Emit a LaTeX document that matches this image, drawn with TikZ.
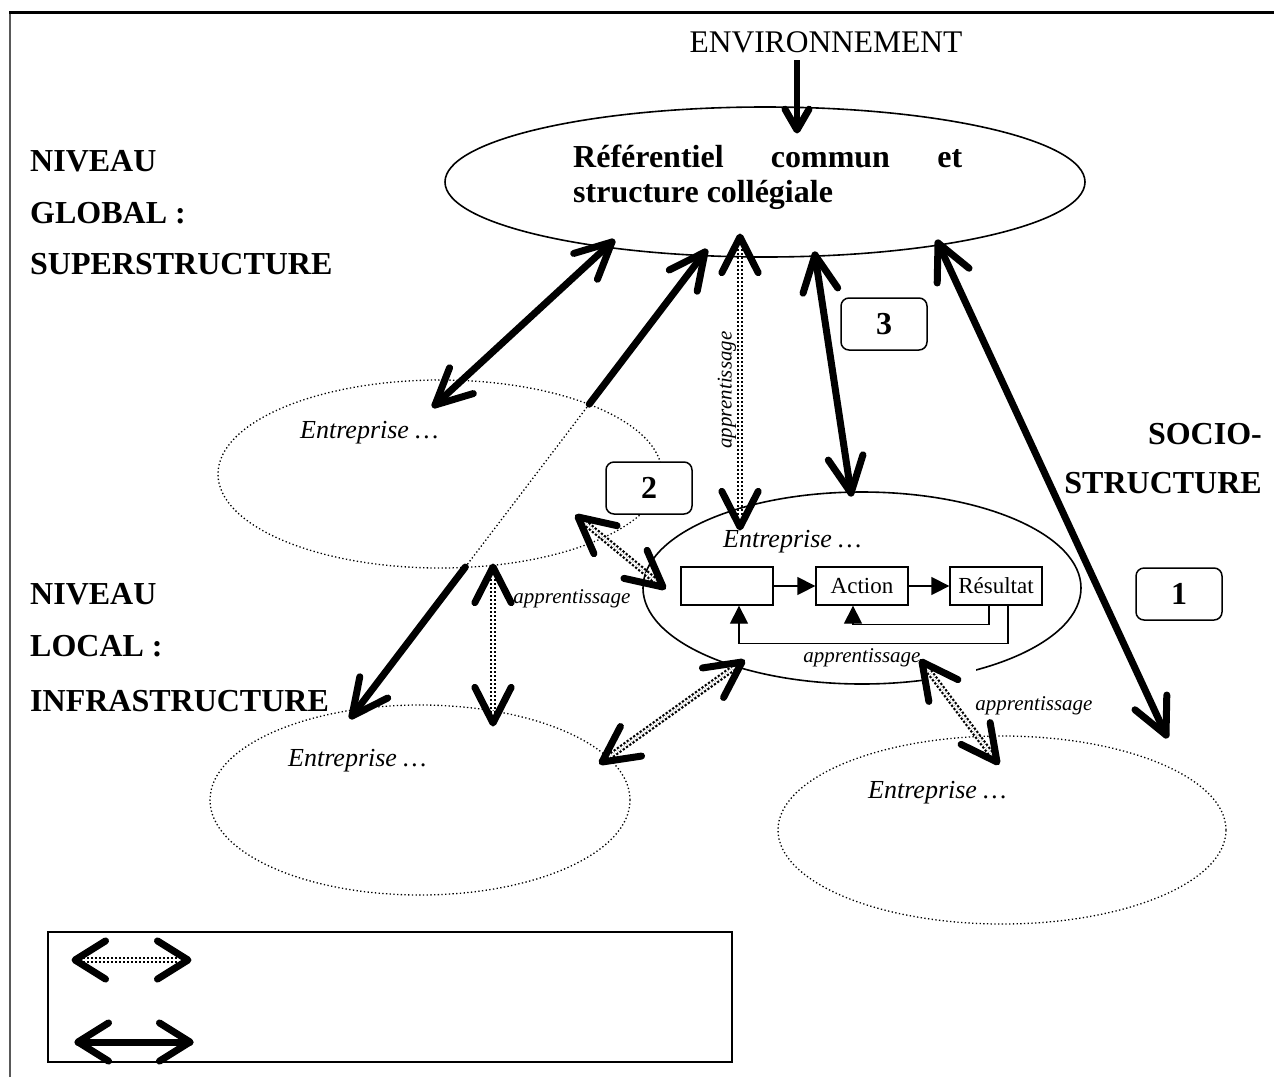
\documentclass[tikz,border=0pt]{standalone}
\usepackage{fontspec}
\setmainfont{Liberation Serif}
\usetikzlibrary{calc,shapes.geometric,arrows.meta}
\newcommand{\barbtip}[4]{\draw[big] ($(#1)!#3!#4:(#2)$) -- (#1) -- ($(#1)!#3!-#4:(#2)$);}
\begin{document}
\begin{tikzpicture}[x=1pt,y=-1pt,
  big/.style={line width=7pt, line cap=round, line join=round},
  dsh/.style={line width=2.2pt, double distance=2.2pt, dash pattern=on 2.2pt off 1.8pt},
  thinline/.style={line width=1.6pt},
  dotell/.style={draw, ellipse, line width=1.3pt, dash pattern=on 1.3pt off 2.4pt, inner sep=0pt},
  solell/.style={draw, ellipse, line width=1.6pt, inner sep=0pt},
  lab/.style={font=\fontsize{21}{24}\selectfont\itshape, inner sep=0pt},
  entl/.style={font=\fontsize{26}{30}\selectfont\itshape, inner sep=0pt, anchor=base west},
  hd/.style={font=\fontsize{32}{36}\selectfont\bfseries, inner sep=0pt},
  nbox/.style={draw, rounded corners=8pt, line width=1.5pt, fill=white, minimum width=86pt, minimum height=52pt, inner sep=0pt, font=\fontsize{32}{36}\selectfont\bfseries},
  sbox/.style={draw, line width=1.3pt, minimum width=92pt, minimum height=38pt, inner sep=0pt, font=\fontsize{23}{26}\selectfont},
  tri/.style={line width=1.3pt, -{Triangle[length=18pt,width=18pt]}}
]
\useasboundingbox (0,0) rectangle (1274,1077);
% frame
\draw[line width=2pt, gray!70!black] (10,1077) -- (10,12);
\draw[line width=3pt] (9,12) -- (1274,12);

% ellipses
\node[solell, minimum width=640pt, minimum height=150pt] (top) at (765,182) {};
\node[dotell, minimum width=444pt, minimum height=188pt] (eul) at (440,474) {};
\node[dotell, minimum width=420pt, minimum height=190pt] (ebl) at (420,800) {};
\node[dotell, minimum width=448pt, minimum height=188pt] (ebr) at (1002,830) {};
\node[solell, minimum width=438pt, minimum height=192pt] (emid) at (862,588) {};
\fill[white] (924,660) rectangle (976,695);

% ENVIRONNEMENT
\node[font=\fontsize{31.5}{36}\selectfont, inner sep=0pt, anchor=base] (env) at (826,52) {ENVIRONNEMENT};
\coordinate (env1) at (797,60);
\coordinate (env2) at (797,130);
\draw[line width=6pt] (env1) -- (env2);
\barbtip{env2}{env1}{24pt}{30}

% thick double arrows
\coordinate (a1) at (612,242); \coordinate (a2) at (435,405);
\draw[big] (a1) -- (a2); \barbtip{a1}{a2}{40pt}{26} \barbtip{a2}{a1}{40pt}{26}

\coordinate (c1) at (705,252); \coordinate (c2) at (352,716);
\coordinate (c3) at ($(c1)!0.328!(c2)$); \coordinate (c4) at ($(c1)!0.679!(c2)$);
\draw[big] (c1) -- (c3);
\draw[line width=1.3pt, dash pattern=on 1.3pt off 2.4pt] (c3) -- (c4);
\draw[big] (c4) -- (c2);
\barbtip{c1}{c2}{40pt}{26} \barbtip{c2}{c1}{40pt}{26}

\coordinate (d1) at (815,255); \coordinate (d2) at (851,493);
\draw[big] (d1) -- (d2); \barbtip{d1}{d2}{40pt}{26} \barbtip{d2}{d1}{40pt}{26}

\coordinate (e1) at (938,243); \coordinate (e2) at (1166,735);
\draw[big] (e1) -- (e2); \barbtip{e1}{e2}{40pt}{26} \barbtip{e2}{e1}{40pt}{26}

% dotted double arrows
\coordinate (f1) at (740,237); \coordinate (f2) at (740,527);
\draw[dsh] (f1) -- (f2); \barbtip{f1}{f2}{40pt}{27} \barbtip{f2}{f1}{40pt}{27}
\coordinate (g1) at (578,517); \coordinate (g2) at (663,587);
\draw[dsh] (g1) -- (g2); \barbtip{g1}{g2}{40pt}{27} \barbtip{g2}{g1}{40pt}{27}
\coordinate (h1) at (493,567); \coordinate (h2) at (493,723);
\draw[dsh] (h1) -- (h2); \barbtip{h1}{h2}{40pt}{27} \barbtip{h2}{h1}{40pt}{27}
\coordinate (i1) at (602,762); \coordinate (i2) at (742,662);
\draw[dsh] (i1) -- (i2); \barbtip{i1}{i2}{40pt}{27} \barbtip{i2}{i1}{40pt}{27}
\coordinate (j1) at (922,662); \coordinate (j2) at (997,762);
\draw[dsh] (j1) -- (j2); \barbtip{j1}{j2}{40pt}{27} \barbtip{j2}{j1}{40pt}{27}

% number boxes
\node[nbox] (n3) at (884,324) {3};
\node[nbox] (n2) at (649,488) {2};
\node[nbox] (n1) at (1179,594) {1};

% inner boxes
\node[sbox] (b0) at (727,586) {};
\node[sbox] (bact) at (862,586) {Action};
\node[sbox] (bres) at (996,586) {Résultat};
\draw[tri] (b0.east) -- (bact.west);
\draw[tri] (bact.east) -- (bres.west);
\draw[tri] ([xshift=-7pt]bres.south) -- ++(0,19) -| ([xshift=-9pt]bact.south);
\draw[tri] ([xshift=12pt]bres.south) -- ++(0,38) -| ([xshift=12pt]b0.south);

% texts in ellipses
\node[hd, anchor=base west] (ref1) at (573,167) {\makebox[389pt][s]{Référentiel\hfill commun\hfill et}};
\node[hd, anchor=base west] (ref2) at (573,202) {structure collégiale};
\node[entl] (t1) at (300,438) {Entreprise …};
\node[entl] (t2) at (723,547) {Entreprise …};
\node[entl] (t3) at (288,766) {Entreprise …};
\node[entl] (t4) at (868,798) {Entreprise …};

% apprentissage labels
\node[lab, rotate=90] (l1) at (727,390) {apprentissage};
\node[lab, anchor=base] (l2) at (572,603) {apprentissage};
\node[lab, anchor=base] (l3) at (862,662) {apprentissage};
\node[lab, anchor=base] (l4) at (1034,710) {apprentissage};

% side headings
\node[hd, anchor=base west] (s1) at (30,171) {NIVEAU};
\node[hd, anchor=base west] (s2) at (30,223) {GLOBAL :};
\node[hd, anchor=base west] (s3) at (30,274) {SUPERSTRUCTURE};
\node[hd, anchor=base west] (s4) at (30,604) {NIVEAU};
\node[hd, anchor=base west] (s5) at (30,656) {LOCAL :};
\node[hd, anchor=base west] (s6) at (30,711) {INFRASTRUCTURE};
\node[hd, anchor=base east] (s7) at (1262,444) {SOCIO-};
\node[hd, anchor=base east] (s8) at (1262,493) {STRUCTURE};

% legend
\node[draw, line width=1.3pt, minimum width=684pt, minimum height=130pt, inner sep=0pt] (leg) at (390,997) {};
\coordinate (k1) at (75,960); \coordinate (k2) at (188,960);
\draw[dsh] (k1) -- (k2); \barbtip{k1}{k2}{36pt}{32} \barbtip{k2}{k1}{36pt}{32}
\coordinate (m1) at (78,1042); \coordinate (m2) at (190,1042);
\draw[big] (m1) -- (m2); \barbtip{m1}{m2}{36pt}{32} \barbtip{m2}{m1}{36pt}{32}
\end{tikzpicture}
\end{document}
